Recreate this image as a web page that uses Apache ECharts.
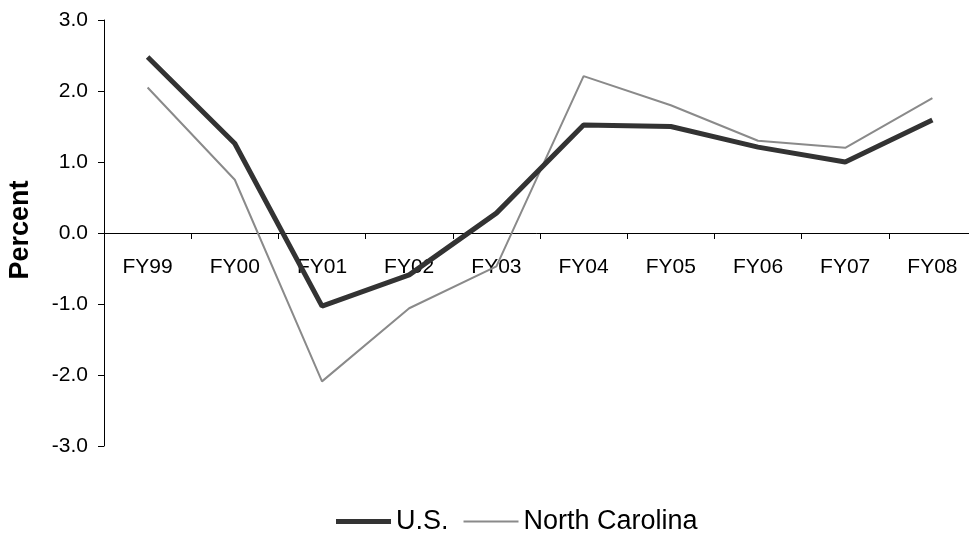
<!DOCTYPE html>
<html><head><meta charset="utf-8">
<script src="https://cdn.jsdelivr.net/npm/echarts@6/dist/echarts.min.js"></script>
<style>html,body{margin:0;padding:0;background:#fff}#c{width:969px;height:537px}</style>
</head><body><div id="c"></div>
<script>
var categories = ['FY99','FY00','FY01','FY02','FY03','FY04','FY05','FY06','FY07','FY08'];
var usValues = [2.48, 1.26, -1.03, -0.59, 0.28, 1.52, 1.50, 1.21, 1.00, 1.59];
var ncValues = [2.05, 0.75, -2.09, -1.06, -0.47, 2.21, 1.80, 1.30, 1.20, 1.90];
var chart = echarts.init(document.getElementById('c'), null, {renderer:'canvas'});
var font = 'Liberation Sans, Arial, sans-serif';
chart.setOption({
  animation:false,
  grid:{left:104, right:-7, top:20, height:426, outerBoundsMode:'none', containLabel:false},
  legend:{top:508, left:336, itemWidth:55, itemHeight:10, itemGap:15, padding:0,
    textStyle:{fontFamily:font, fontSize:27, color:'#000'},
    data:[{name:'U.S.', icon:'path://M0,0 L55,0 L55,5 L0,5 Z'},{name:'North Carolina', icon:'path://M0,0 L52,0 L52,2 L0,2 Z'}]},
  xAxis:{type:'category', data:categories, boundaryGap:true,
    axisLine:{onZero:true, lineStyle:{color:'#000', width:1}},
    axisTick:{show:true, length:6, alignWithLabel:false, lineStyle:{color:'#000'}},
    axisLabel:{margin:-189, fontFamily:font, fontSize:21, color:'#000'}},
  yAxis:{type:'value', min:-3, max:3, interval:1, name:'Percent', nameLocation:'middle', nameGap:70,
    nameTextStyle:{fontFamily:font, fontSize:27, fontWeight:'bold', color:'#000', padding:[0,0,0,6]},
    axisLine:{show:true, lineStyle:{color:'#000'}},
    axisTick:{show:true, length:6, lineStyle:{color:'#000'}},
    splitLine:{show:false},
    axisLabel:{margin:16, fontFamily:font, fontSize:21, color:'#000', formatter:function(v){return v.toFixed(1);}}},
  series:[
    {name:'U.S.', type:'line', data:usValues, symbol:'none', lineStyle:{width:5, color:'#333333'}, itemStyle:{color:'#333333'}, z:3},
    {name:'North Carolina', type:'line', data:ncValues, symbol:'none', lineStyle:{width:2, color:'#8a8a8a'}, itemStyle:{color:'#8a8a8a'}, z:2}
  ]
});
</script></body></html>
